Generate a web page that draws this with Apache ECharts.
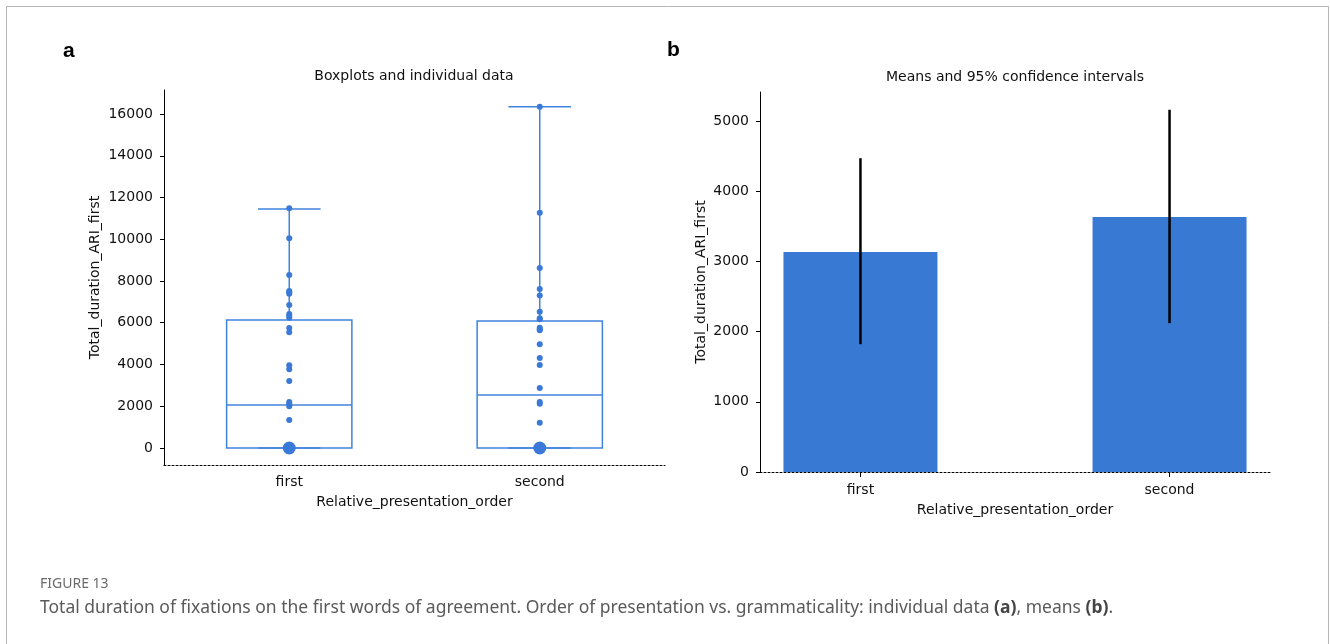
<!DOCTYPE html>
<html><head><meta charset="utf-8">
<script src="https://cdn.jsdelivr.net/npm/echarts@6/dist/echarts.min.js"></script>
<style>html,body{margin:0;padding:0;background:#fff}#c{width:1330px;height:644px}</style>
</head><body><div id="c"></div>
<script>
// ---- data ----
const categories = ['first', 'second'];
const boxMin = [0, 0];
const boxQ1 = [0, 0];
const boxMedian = [2060, 2540];
const boxQ3 = [6130, 6080];
const boxMax = [11450, 16350];
const pointsFirst = [11480, 10050, 8290, 7520, 7460, 7390, 6850, 6420, 6340, 6240, 5750, 5540, 3960, 3770, 3210, 2200, 2120, 2000, 1340];
const pointsSecond = [16350, 11270, 8620, 7620, 7300, 6530, 6210, 6170, 5760, 5700, 5640, 4970, 4310, 3980, 2870, 2200, 2120, 1210];
const zeroValues = [0, 0];
const leftTicks = [0, 2000, 4000, 6000, 8000, 10000, 12000, 14000, 16000];
const meanValues = [3134, 3632];
const ciLow = [1820, 2120];
const ciHigh = [4470, 5160];
const rightTicks = [0, 1000, 2000, 3000, 4000, 5000];

// ---- styles ----
const boxColor = '#4083de';
const dotColor = '#3a79d8';
const barColor = '#3879d3';
const fontAx = 'DejaVu Sans';

const chart = echarts.init(document.getElementById('c'), null, {renderer: 'canvas'});

function renderBox(params, api) {
  const i = api.value(0);
  const pMin = api.coord([i, api.value(1)]);
  const pQ1 = api.coord([i, api.value(2)]);
  const pMed = api.coord([i, api.value(3)]);
  const pQ3 = api.coord([i, api.value(4)]);
  const pMax = api.coord([i, api.value(5)]);
  const band = api.size([1, 0])[0];
  const bw = band * 0.5, cw = band * 0.25;
  const x = pMed[0];
  const st = {stroke: boxColor, lineWidth: 1.5, fill: null};
  return {type: 'group', children: [
    {type: 'rect', shape: {x: x - bw / 2, y: pQ3[1], width: bw, height: pQ1[1] - pQ3[1]}, style: {stroke: boxColor, lineWidth: 1.5, fill: 'rgba(0,0,0,0)'}},
    {type: 'line', shape: {x1: x - bw / 2, y1: pMed[1], x2: x + bw / 2, y2: pMed[1]}, style: st},
    {type: 'line', shape: {x1: x, y1: pQ3[1], x2: x, y2: pMax[1]}, style: st},
    {type: 'line', shape: {x1: x, y1: pQ1[1], x2: x, y2: pMin[1]}, style: st},
    {type: 'line', shape: {x1: x - cw / 2, y1: pMax[1], x2: x + cw / 2, y2: pMax[1]}, style: st},
    {type: 'line', shape: {x1: x - cw / 2, y1: pMin[1], x2: x + cw / 2, y2: pMin[1]}, style: st}
  ]};
}

function renderErr(params, api) {
  const i = api.value(0);
  const lo = api.coord([i, api.value(1)]);
  const hi = api.coord([i, api.value(2)]);
  return {type: 'line', shape: {x1: lo[0], y1: lo[1], x2: hi[0], y2: hi[1]}, style: {stroke: '#000', lineWidth: 2.5}};
}

const axLabel = {color: '#111', fontFamily: fontAx, fontSize: 14};
const axName = {color: '#111', fontFamily: fontAx, fontSize: 14};
const plain = v => String(v);
const dotted = {color: '#000', type: [2, 2], width: 1};

const option = {
  animation: false,
  backgroundColor: '#fff',
  grid: [
    {left: 164, top: 90, width: 501, height: 375},
    {left: 760, top: 92, width: 510, height: 380}
  ],
  xAxis: [
    {
      gridIndex: 0, type: 'category', data: categories, boundaryGap: true,
      name: 'Relative_presentation_order', nameLocation: 'middle', nameGap: 30, nameTextStyle: axName,
      axisLine: {onZero: false, lineStyle: dotted},
      axisTick: {alignWithLabel: true, length: 5, lineStyle: {color: '#000', type: 'solid'}},
      axisLabel: Object.assign({margin: 10}, axLabel),
      splitLine: {show: false}
    },
    {
      gridIndex: 1, type: 'value', min: -0.325, max: 1.325,
      name: 'Relative_presentation_order', nameLocation: 'middle', nameGap: 31, nameTextStyle: axName,
      axisLine: {onZero: false, lineStyle: dotted},
      axisTick: {customValues: [0, 1], length: 5, lineStyle: {color: '#000', type: 'solid'}},
      axisLabel: Object.assign({margin: 11, customValues: [0, 1], formatter: v => categories[Math.round(v)]}, axLabel),
      splitLine: {show: false}
    }
  ],
  yAxis: [
    {
      gridIndex: 0, type: 'value', min: -815, max: 17150,
      name: 'Total_duration_ARI_first', nameLocation: 'middle', nameGap: 62, nameTextStyle: axName,
      axisLine: {show: true, onZero: false, lineStyle: {color: '#000', width: 1}},
      axisTick: {show: true, customValues: leftTicks, length: 4, lineStyle: {color: '#000'}},
      axisLabel: Object.assign({margin: 11, customValues: leftTicks, formatter: plain}, axLabel),
      splitLine: {show: false}
    },
    {
      gridIndex: 1, type: 'value', min: 0, max: 5413,
      name: 'Total_duration_ARI_first', nameLocation: 'middle', nameGap: 52, nameTextStyle: axName,
      axisLine: {show: true, onZero: false, lineStyle: {color: '#000', width: 1}},
      axisTick: {show: true, customValues: rightTicks, length: 4, lineStyle: {color: '#000'}},
      axisLabel: Object.assign({margin: 11, customValues: rightTicks, formatter: plain}, axLabel),
      splitLine: {show: false}
    }
  ],
  series: [
    {
      type: 'custom', xAxisIndex: 0, yAxisIndex: 0, renderItem: renderBox, z: 2,
      encode: {x: 0, y: [1, 2, 3, 4, 5]},
      data: categories.map((c, i) => [i, boxMin[i], boxQ1[i], boxMedian[i], boxQ3[i], boxMax[i]])
    },
    {
      type: 'scatter', xAxisIndex: 0, yAxisIndex: 0, symbolSize: 6, z: 3,
      itemStyle: {color: dotColor, opacity: 1},
      data: pointsFirst.map(v => [0, v]).concat(pointsSecond.map(v => [1, v]))
    },
    {
      type: 'scatter', xAxisIndex: 0, yAxisIndex: 0, symbolSize: 13, z: 3,
      itemStyle: {color: dotColor, opacity: 1},
      data: zeroValues.map((v, i) => [i, v])
    },
    {
      type: 'bar', xAxisIndex: 1, yAxisIndex: 1, barWidth: 154, z: 2,
      itemStyle: {color: barColor},
      data: meanValues.map((v, i) => [i, v])
    },
    {
      type: 'custom', xAxisIndex: 1, yAxisIndex: 1, renderItem: renderErr, z: 3,
      encode: {x: 0, y: [1, 2]},
      data: meanValues.map((v, i) => [i, ciLow[i], ciHigh[i]])
    }
  ],
  graphic: [
    {type: 'rect', shape: {x: 6.5, y: 6.5, width: 1322, height: 720}, style: {stroke: '#b5b5b5', lineWidth: 1, fill: 'rgba(0,0,0,0)'}, silent: true},
    {type: 'text', x: 63, y: 51, style: {text: 'a', font: 'bold 21px "Liberation Sans", Arial, sans-serif', fill: '#000', textVerticalAlign: 'middle'}},
    {type: 'text', x: 667, y: 50, style: {text: 'b', font: 'bold 21px "Liberation Sans", Arial, sans-serif', fill: '#000', textVerticalAlign: 'middle'}},
    {type: 'text', x: 414, y: 76, style: {text: 'Boxplots and individual data', font: '14px "DejaVu Sans"', fill: '#111', textAlign: 'center', textVerticalAlign: 'middle'}},
    {type: 'text', x: 1015, y: 77, style: {text: 'Means and 95% confidence intervals', font: '14px "DejaVu Sans"', fill: '#111', textAlign: 'center', textVerticalAlign: 'middle'}},
    {type: 'text', x: 40, y: 584, style: {text: 'FIGURE 13', font: '14px "Noto Sans"', fill: '#6b6b6b', textVerticalAlign: 'middle'}},
    {type: 'text', x: 40, y: 608, style: {
      text: 'Total duration of fixations on the first words of agreement. Order of presentation vs. grammaticality: individual data {b|(a)}, means {b|(b)}.',
      font: '17.5px "Noto Sans"', fill: '#5a5a5a', textVerticalAlign: 'middle',
      rich: {b: {fontWeight: 'bold', fontSize: 17.5, fontFamily: 'Noto Sans', fill: '#444'}}
    }}
  ]
};
chart.setOption(option);
</script>
</body></html>
